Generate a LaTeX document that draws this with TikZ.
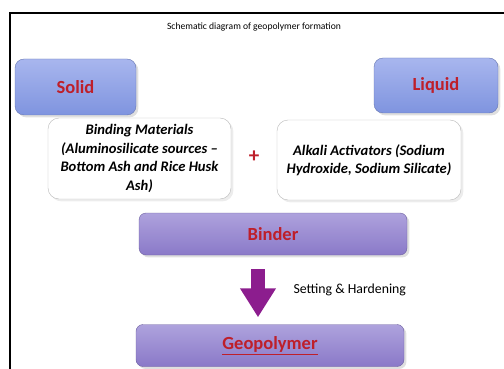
\documentclass[tikz,border=0pt]{standalone}
\usepackage{fontspec}
\setmainfont{Carlito}
\usetikzlibrary{arrows.meta, positioning, shadows}
\definecolor{phasetop}{HTML}{A8B6EE}
\definecolor{phasebot}{HTML}{7F94DF}
\definecolor{stagetop}{HTML}{AEA2DD}
\definecolor{stagebot}{HTML}{8A79C8}
\definecolor{labelred}{HTML}{BE1F2A}
\definecolor{flowpurple}{HTML}{8C1D8E}
\tikzstyle{phase} = [rectangle, draw=phasebot!80!black, rounded corners=9pt,
  top color=phasetop, bottom color=phasebot, drop shadow={opacity=0.25},
  text=labelred, font=\fontsize{18.5}{21}\selectfont\bfseries]
\tikzstyle{material} = [rectangle, draw=gray!55, fill=white, rounded corners=11pt,
  align=center, drop shadow={opacity=0.15},
  font=\fontsize{14.6}{18.5}\selectfont\bfseries\itshape]
\tikzstyle{stage} = [rectangle, draw=stagebot!80!black, rounded corners=7pt,
  top color=stagetop, bottom color=stagebot, drop shadow={opacity=0.25},
  minimum width=268pt, minimum height=42pt,
  text=labelred, font=\fontsize{18.5}{21}\selectfont\bfseries]
\tikzstyle{flow} = [line width=14pt, draw=flowpurple, -{Triangle[width=34pt, length=29pt]}]

\begin{document}
\begin{tikzpicture}[x=1pt, y=-1pt]
    \useasboundingbox (0,0) rectangle (504,369);
    \draw[line width=2.4pt] (10,370) -- (10,13) -- (505,13);
    \node[font=\fontsize{9.6}{11}\selectfont] (title) at (254,27) {Schematic diagram of geopolymer formation};
    \node[phase, minimum width=121pt, minimum height=56pt] (solid) at (75.5,87) {Solid};
    \node[phase, minimum width=124pt, minimum height=55pt] (liquid) at (436,85.5) {Liquid};
    \node[material, minimum width=183pt, minimum height=81pt] (bind) at (139.5,158.5)
      {Binding Materials\\(Aluminosilicate sources –\\Bottom Ash and Rice Husk\\Ash)};
    \node[material, minimum width=184pt, minimum height=80pt] (alk) at (369,160)
      {Alkali Activators (Sodium\\Hydroxide, Sodium Silicate)};
    \node[text=labelred, font=\fontsize{21}{24}\selectfont\bfseries] (plus) at (254,157) {+};
    \node[stage] (binder) at (273,234) {Binder};
    \node[stage] (geo) at (270,345.5) {\underline{Geopolymer}};
    \draw[flow] ([xshift=-15pt, yshift=-14pt]binder.south) -- ([xshift=-12pt, yshift=7pt]geo.north);
    \node[anchor=west, font=\fontsize{13.8}{16}\selectfont] (setting) at (290,290) {Setting \& Hardening};
  \end{tikzpicture}
\end{document}
